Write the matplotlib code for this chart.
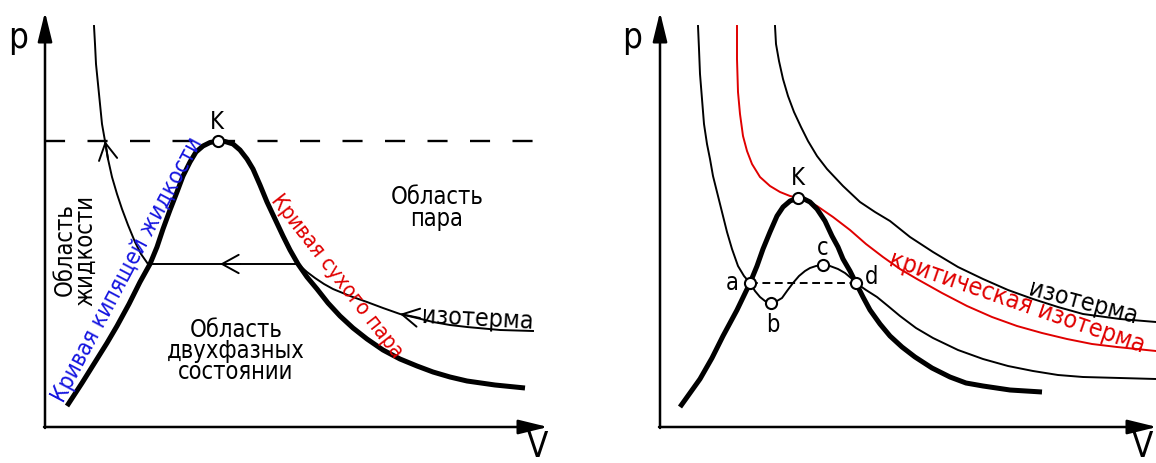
import matplotlib
matplotlib.use("Agg")
import matplotlib.pyplot as plt

plt.rcParams['font.family'] = ['DejaVu Sans']

# ---------------- Left panel data (v, p) ----------------
domeL_v = [22, 37, 52, 62, 72, 84, 95, 105, 112, 118, 125, 132, 138, 145, 151, 158, 165, 173,
           180, 188, 195, 202, 208, 215, 222, 230, 238, 245, 253, 262, 272, 283, 295, 308,
           322, 338, 355, 372, 388, 405, 422, 450, 480]
domeL_p = [21, 44, 68, 84, 101, 123, 145, 163, 180, 198, 217, 235, 251, 265, 275, 281, 284.5, 286,
           285.5, 283, 277, 268, 258, 242, 225, 208, 191, 177, 163, 150, 138, 124, 111, 99,
           88, 77, 68, 61, 55, 50, 46, 42, 39]

isoL_v = [49, 50, 51, 53, 55, 57, 60, 63, 67, 72, 77, 83, 90, 96, 103,
          253, 262, 270, 279, 288, 305, 322, 338, 355, 372, 388, 405, 422, 455, 488]
isoL_p = [401, 383, 363, 343, 323, 303, 286, 268, 250, 233, 218, 202, 185, 173, 163,
          163, 155, 149, 143, 138, 131, 125, 119, 113, 109, 105, 102, 100, 97, 96]

crit_p_L = 286
crit_v_L = [0, 492]
K_L = (173, 286)

# chevrons on the isotherm: (tip v, tip p, tail v, tail p)
arrowsL = [(60, 286, 63, 268), (175, 163, 195, 163), (355, 113, 375, 109)]

# ---------------- Right panel data (v, p) ----------------
domeR_v = [20, 30, 40, 52, 63, 77, 90, 97, 103, 110, 117, 123, 130, 138, 144, 150, 157, 165,
           172, 178, 183, 190, 196, 203, 210, 220, 230, 242, 255, 272, 290, 306, 323, 350, 382]
domeR_p = [20, 34, 48, 69, 91, 117, 144, 161, 178, 195, 211, 220, 226, 229, 228, 225, 218, 206,
           191, 180, 168, 156, 144, 130, 117, 103, 91, 80, 70, 59, 50, 44, 41, 37, 35]

isoLowR_v = [38, 39, 40, 42, 44, 47, 50, 53, 57, 62, 67, 72, 78, 84, 90, 95, 100, 105, 111,
             117, 122, 127, 133, 139, 145, 150, 156, 163, 170, 178, 185, 191, 196, 206, 217,
             228, 240, 256, 273, 298, 323, 348, 373, 398, 423, 460, 496]
isoLowR_p = [401, 378, 353, 328, 303, 283, 268, 251, 235, 215, 195, 178, 161, 151, 144, 136,
             130, 126, 124, 126, 129, 136, 144, 151, 156, 159, 161, 162, 161, 158, 154, 149,
             144, 137, 130, 121, 111, 99, 89, 77, 68, 61, 56, 52, 50, 49, 48]

critR_v = [77, 77, 78, 80, 83, 87, 92, 100, 110, 120, 130, 138, 147, 157, 173, 190, 206, 223,
           240, 257, 282, 307, 332, 357, 382, 407, 432, 457, 496]
critR_p = [401, 368, 335, 313, 291, 276, 263, 250, 241, 235, 231, 229, 226, 221, 210, 197, 183,
           170, 158, 148, 134, 121, 110, 101, 94, 88, 83, 80, 76]

isoHighR_v = [115, 116, 119, 123, 128, 134, 141, 148, 157, 167, 183, 200, 215, 230, 250, 273,
              298, 323, 348, 373, 398, 423, 460, 496]
isoHighR_p = [401, 383, 366, 348, 331, 315, 300, 286, 271, 258, 241, 225, 215, 206, 190, 175,
              160, 148, 137, 128, 120, 113, 108, 105]

ad_p = 144
ad_v = [90, 196]
pointsR_v = [90, 111, 163, 196, 138]
pointsR_p = [144, 124, 162, 144, 229]
pointsR_lab = ['a', 'b', 'c', 'd', 'K']
pointsR_lab_v = [72, 113, 163, 212, 138]
pointsR_lab_p = [145, 103, 180, 151, 250]

# ---------------- Figure ----------------
fig = plt.figure(figsize=(11.56, 4.64), dpi=100)
axL = fig.add_axes([0, 0, 0.5, 1])
axR = fig.add_axes([0.5, 0, 0.5, 1])
axL.set_xlim(-45, 533)
axR.set_xlim(-82, 496)
for ax in (axL, axR):
    ax.set_ylim(-36, 428)
    ax.axis('off')

THICK = 3.6
THIN = 1.4
TXT = dict(fontstretch='condensed')


def axes_arrows(ax, xmax, ymax):
    style = '-|>,head_length=0.9,head_width=0.22'
    ax.annotate('', xy=(0, ymax), xytext=(0, -1),
                arrowprops=dict(arrowstyle=style, lw=1.8, color='black',
                                mutation_scale=20, shrinkA=0, shrinkB=0),
                annotation_clip=False)
    ax.annotate('', xy=(xmax, 0), xytext=(-1, 0),
                arrowprops=dict(arrowstyle=style, lw=1.8, color='black',
                                mutation_scale=20, shrinkA=0, shrinkB=0),
                annotation_clip=False)


# ----- Left -----
axes_arrows(axL, 503, 415)
axL.plot(crit_v_L, [crit_p_L, crit_p_L], color='black', lw=1.7,
         linestyle=(0, (8.5, 9.5)))
axL.plot(isoL_v, isoL_p, color='black', lw=THIN, solid_joinstyle='round')
axL.plot(domeL_v, domeL_p, color='black', lw=THICK, solid_joinstyle='round',
         solid_capstyle='butt')
axL.plot([K_L[0]], [K_L[1]], 'o', ms=8, mfc='white', mec='black', mew=1.5)
for tv, tp, sv, sp in arrowsL:
    axL.annotate('', xy=(tv, tp), xytext=(sv, sp),
                 arrowprops=dict(arrowstyle='->,head_length=0.6,head_width=0.33',
                                 lw=THIN, color='black', mutation_scale=20,
                                 shrinkA=0, shrinkB=0))

axL.text(-27, 390, 'p', fontsize=25, ha='center', va='center', **TXT)
axL.text(492, -19, 'V', fontsize=25, ha='center', va='center', **TXT)
axL.text(172, 306, 'K', fontsize=17, ha='center', va='center', **TXT)
axL.text(30, 178, 'Область\nжидкости', fontsize=17, rotation=90,
         ha='center', va='center', linespacing=0.86, rotation_mode='anchor', **TXT)
axL.text(392, 220, 'Область\nпара', fontsize=17, ha='center', va='center',
         linespacing=0.86, **TXT)
axL.text(191, 77, 'Область\nдвухфазных\nсостоянии', fontsize=17, ha='center',
         va='center', linespacing=0.86, **TXT)
axL.text(433, 109, 'изотерма', fontsize=18, ha='center', va='center',
         rotation=-3, rotation_mode='anchor', **TXT)
axL.text(82, 158, 'Кривая кипящей жидкости', fontsize=16.5, color='#1515e0',
         rotation=62, ha='center', va='center', rotation_mode='anchor', **TXT)
axL.text(292, 152, 'Кривая сухого пара', fontsize=15.5, color='#e00000',
         rotation=-52, ha='center', va='center', rotation_mode='anchor', **TXT)

# ----- Right -----
axes_arrows(axR, 497, 415)
axR.plot(isoHighR_v, isoHighR_p, color='black', lw=THIN, solid_joinstyle='round')
axR.plot(critR_v, critR_p, color='#e00000', lw=THIN, solid_joinstyle='round')
axR.plot(isoLowR_v, isoLowR_p, color='black', lw=THIN, solid_joinstyle='round')
axR.plot(domeR_v, domeR_p, color='black', lw=THICK, solid_joinstyle='round',
         solid_capstyle='butt')
axR.plot(ad_v, [ad_p, ad_p], color='black', lw=1.4, linestyle=(0, (4, 2.4)))
axR.plot(pointsR_v, pointsR_p, 'o', ms=8, mfc='white', mec='black', mew=1.5,
         linestyle='none')
for lab, lv, lp in zip(pointsR_lab, pointsR_lab_v, pointsR_lab_p):
    axR.text(lv, lp, lab, fontsize=17, ha='center', va='center', **TXT)

axR.text(-28, 390, 'p', fontsize=25, ha='center', va='center', **TXT)
axR.text(482, -19, 'V', fontsize=25, ha='center', va='center', **TXT)
axR.text(423, 125, 'изотерма', fontsize=18, ha='center', va='center',
         rotation=-15, rotation_mode='anchor', **TXT)
axR.text(357, 126, 'критическая изотерма', fontsize=18, color='#e00000',
         ha='center', va='center', rotation=-19, rotation_mode='anchor', **TXT)

fig.savefig('out.png', dpi=100, facecolor='white')
